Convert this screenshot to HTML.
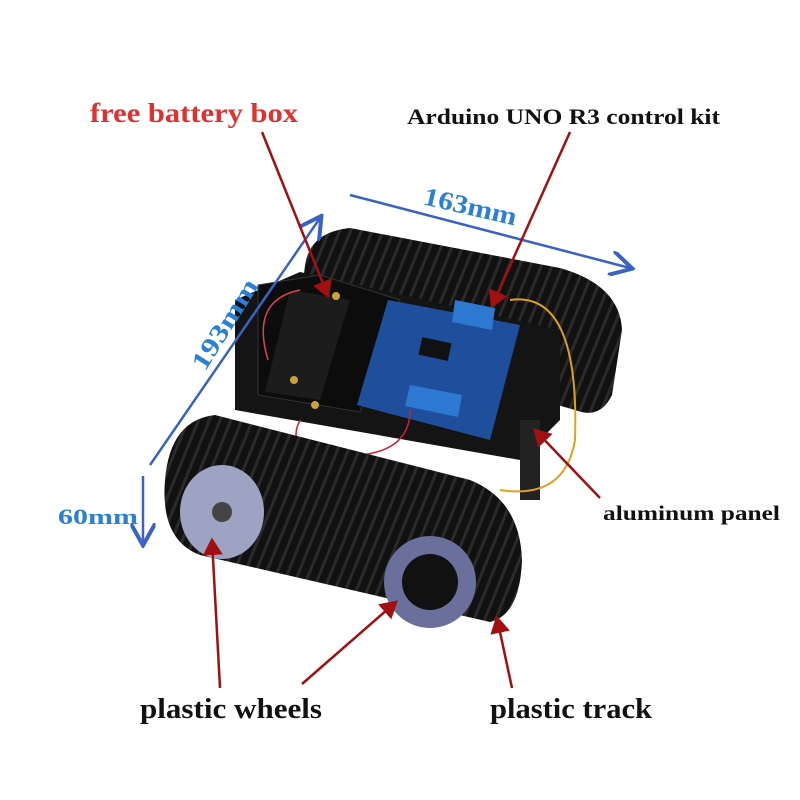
<!DOCTYPE html>
<html><head><meta charset="utf-8"><style>
body{margin:0;background:#fff;}
svg{display:block}
text{font-family:"Liberation Serif",serif;font-weight:bold}
</style></head><body>
<svg width="800" height="800" viewBox="0 0 800 800">
<defs>
<pattern id="tread" width="10" height="10" patternUnits="userSpaceOnUse" patternTransform="rotate(22)">
<rect width="10" height="10" fill="#111"/>
<rect x="0" y="0" width="3" height="10" fill="#2a2a2a"/>
</pattern>
<marker id="ab" markerWidth="10" markerHeight="10" refX="8" refY="5" orient="auto"><path d="M0,0 L9,5 L0,10" fill="none" stroke="#3a62c4" stroke-width="1.6"/></marker>
<marker id="ar" markerWidth="8" markerHeight="8" refX="6" refY="4" orient="auto"><path d="M0,0 L7,4 L0,8 z" fill="#a01010"/></marker>
</defs>
<path d="M305,265 Q310,232 350,228 L560,268 Q620,285 622,330 L612,395 Q600,420 575,410 L540,400 L300,310 Z" fill="url(#tread)"/>
<path d="M235,300 L300,272 L560,330 L560,420 L520,460 L235,410 Z" fill="#141414"/>
<rect x="520" y="420" width="20" height="80" fill="#222"/>
<path d="M258,285 L320,275 L400,300 L360,412 L258,395 Z" fill="#0c0c0c" stroke="#333"/>
<path d="M290,290 L350,300 L320,400 L265,392 Z" fill="#1c1c1c"/>
<circle cx="336" cy="296" r="4" fill="#c9a23a"/><circle cx="294" cy="380" r="4" fill="#c9a23a"/><circle cx="315" cy="405" r="4" fill="#c9a23a"/>
<path d="M388,300 L520,325 L490,440 L357,405 Z" fill="#1f4f9c"/>
<path d="M455,300 L495,308 L492,330 L452,322 Z" fill="#2d78d0"/>
<path d="M410,385 L462,395 L458,417 L405,406 Z" fill="#2d78d0"/>
<rect x="420" y="340" width="30" height="18" fill="#111" transform="rotate(12 435 349)"/>
<path d="M300,290 Q250,300 268,360" fill="none" stroke="#e04050" stroke-width="1.5"/>
<path d="M510,300 Q580,290 575,440 Q565,500 500,490" fill="none" stroke="#e0a020" stroke-width="2"/>
<path d="M300,420 Q280,460 360,455 Q410,450 410,410" fill="none" stroke="#d02030" stroke-width="1.5"/>
<path d="M165,480 Q170,420 215,415 L470,480 Q520,500 522,560 Q520,615 490,622 L200,555 Q160,540 165,480 Z" fill="url(#tread)"/>
<ellipse cx="222" cy="512" rx="42" ry="47" fill="#9ea3c4"/>
<ellipse cx="222" cy="512" rx="10" ry="10" fill="#444"/>
<circle cx="430" cy="582" r="46" fill="#6a6f9c"/>
<circle cx="430" cy="582" r="28" fill="#111"/>
<line x1="350" y1="195" x2="630" y2="268" stroke="#3a62c4" stroke-width="2.5" marker-end="url(#ab)"/>
<line x1="150" y1="465" x2="320" y2="218" stroke="#3a62c4" stroke-width="2.5" marker-end="url(#ab)"/>
<line x1="143" y1="476" x2="143" y2="543" stroke="#3a62c4" stroke-width="2.5" marker-end="url(#ab)"/>
<g stroke="#a01010" stroke-width="2.5" marker-end="url(#ar)">
<line x1="262" y1="132" x2="328" y2="296"/>
<line x1="570" y1="132" x2="492" y2="306"/>
<line x1="600" y1="498" x2="535" y2="430"/>
<line x1="220" y1="688" x2="212" y2="540"/>
<line x1="302" y1="684" x2="396" y2="602"/>
<line x1="512" y1="688" x2="497" y2="618"/>
</g>
<text x="90" y="122" font-size="27" fill="#e03030" textLength="208" lengthAdjust="spacingAndGlyphs">free battery box</text>
<text x="407" y="124" font-size="22" fill="#111" textLength="313" lengthAdjust="spacingAndGlyphs">Arduino UNO R3 control kit</text>
<text x="422" y="215" font-size="26" fill="#2a7fd8" transform="rotate(13 470 210)" textLength="95" lengthAdjust="spacingAndGlyphs">163mm</text>
<text x="0" y="0" font-size="26" fill="#2a7fd8" transform="translate(205,372) rotate(-58)" textLength="102" lengthAdjust="spacingAndGlyphs">193mm</text>
<text x="58" y="524" font-size="22" fill="#2a7fd8" textLength="80" lengthAdjust="spacingAndGlyphs">60mm</text>
<text x="603" y="520" font-size="21" fill="#111" textLength="177" lengthAdjust="spacingAndGlyphs">aluminum panel</text>
<text x="140" y="718" font-size="28" fill="#111" textLength="182" lengthAdjust="spacingAndGlyphs">plastic wheels</text>
<text x="490" y="718" font-size="28" fill="#111" textLength="162" lengthAdjust="spacingAndGlyphs">plastic track</text>
</svg>
</body></html>
